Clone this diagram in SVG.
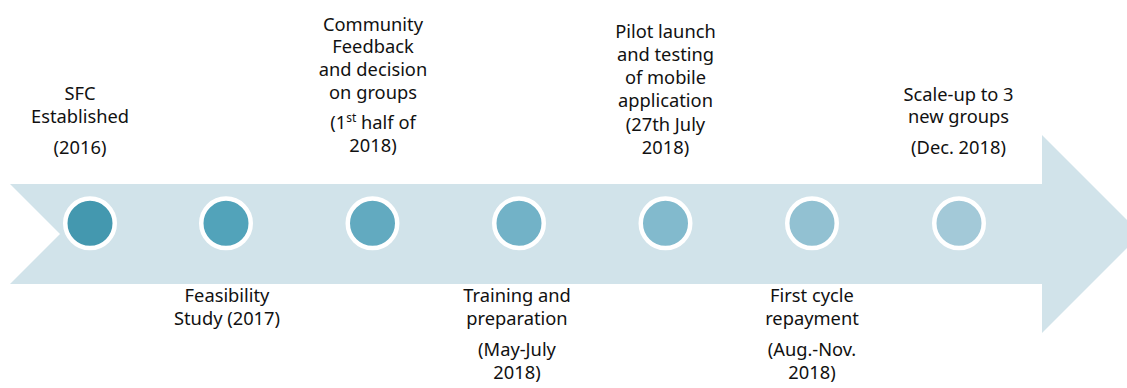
<svg xmlns="http://www.w3.org/2000/svg" width="1127" height="388" viewBox="0 0 1127 388">
  <style>
    .lbl { font-family: "Noto Sans", "Open Sans", sans-serif; font-size: 18.3px; fill: #111; text-anchor: middle; }
    .dot { stroke: #ffffff; stroke-width: 4.5; }
  </style>
  <rect width="1127" height="388" fill="#ffffff"/>

  <!-- timeline arrow -->
  <g id="connectors">
    <polygon points="10,184 1042,184 1042,135 1141,234 1042,333 1042,284 10,284 60,234" fill="#D1E3EA"/>
  </g>

  <!-- milestones -->
  <g id="node-sfc">
    <circle class="dot" cx="90" cy="223.3" r="24.75" fill="#4498AF"/>
    <text class="lbl" x="80" y="100">SFC</text>
    <text class="lbl" x="80" y="122.7">Established</text>
    <text class="lbl" x="80" y="154">(2016)</text>
  </g>

  <g id="node-feasibility">
    <circle class="dot" cx="226" cy="223.3" r="24.75" fill="#52A3BA"/>
    <text class="lbl" x="227" y="301.7">Feasibility</text>
    <text class="lbl" x="227" y="325">Study (2017)</text>
  </g>

  <g id="node-feedback">
    <circle class="dot" cx="372.5" cy="223.3" r="24.75" fill="#62AAC0"/>
    <text class="lbl" x="373" y="30.5">Community</text>
    <text class="lbl" x="373" y="53">Feedback</text>
    <text class="lbl" x="373" y="75.5">and decision</text>
    <text class="lbl" x="373" y="99">on groups</text>
    <text class="lbl" x="373" y="129">(1<tspan font-size="12" dy="-7">st</tspan><tspan dy="7"> half of</tspan></text>
    <text class="lbl" x="373" y="151.5">2018)</text>
  </g>

  <g id="node-training">
    <circle class="dot" cx="519" cy="223.3" r="24.75" fill="#72B2C7"/>
    <text class="lbl" x="517" y="301.7">Training and</text>
    <text class="lbl" x="517" y="325">preparation</text>
    <text class="lbl" x="517" y="355.7">(May-July</text>
    <text class="lbl" x="517" y="379">2018)</text>
  </g>

  <g id="node-pilot">
    <circle class="dot" cx="665.5" cy="223.3" r="24.75" fill="#82BACD"/>
    <text class="lbl" x="665.5" y="38">Pilot launch</text>
    <text class="lbl" x="665.5" y="61">and testing</text>
    <text class="lbl" x="665.5" y="84">of mobile</text>
    <text class="lbl" x="665.5" y="106.8">application</text>
    <text class="lbl" x="665.5" y="131">(27th July</text>
    <text class="lbl" x="665.5" y="154.4">2018)</text>
  </g>

  <g id="node-repayment">
    <circle class="dot" cx="812" cy="223.3" r="24.75" fill="#92C1D2"/>
    <text class="lbl" x="812" y="301.7">First cycle</text>
    <text class="lbl" x="812" y="325">repayment</text>
    <text class="lbl" x="812" y="355.7">(Aug.-Nov.</text>
    <text class="lbl" x="812" y="379">2018)</text>
  </g>

  <g id="node-scaleup">
    <circle class="dot" cx="959" cy="223.3" r="24.75" fill="#A3C9D8"/>
    <text class="lbl" x="958.5" y="100.7">Scale-up to 3</text>
    <text class="lbl" x="958.5" y="123.3">new groups</text>
    <text class="lbl" x="958.5" y="154.3">(Dec. 2018)</text>
  </g>
</svg>
